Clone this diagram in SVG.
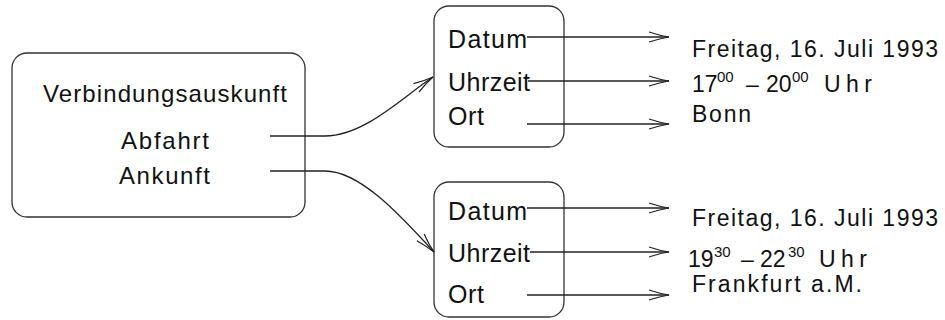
<svg xmlns="http://www.w3.org/2000/svg" width="945" height="320" viewBox="0 0 945 320">
<defs>
<style>
.box{fill:none;stroke:#333;stroke-width:1.3}
.t{font-family:"Liberation Sans",Arial,sans-serif;fill:#111}
.big{font-size:24px}
.mid{font-size:25px}
.val{font-size:23px}
.sup{font-size:15px}
.c{fill:none;stroke:#222;stroke-width:1.3}
</style>
<marker id="ah" markerUnits="userSpaceOnUse" markerWidth="24" markerHeight="14" viewBox="-22 -7 24 14" refX="0" refY="0" orient="auto">
<path d="M-20,-5 Q-9,-1.3 0,0 Q-9,1.3 -20,5" fill="none" stroke="#222" stroke-width="1.2"/>
</marker>
</defs>
<rect width="945" height="320" fill="#fff"/>
<g id="verbindung">
<rect class="box" x="12" y="53" width="293" height="164" rx="15"/>
<text class="t big" x="43" y="102" textLength="244" lengthAdjust="spacing">Verbindungsauskunft</text>
<text class="t big" x="121" y="149" textLength="88" lengthAdjust="spacing">Abfahrt</text>
<text class="t big" x="119" y="184" textLength="91" lengthAdjust="spacing">Ankunft</text>
</g>
<g id="abfahrt-box">
<rect class="box" x="434" y="6" width="130" height="141" rx="15"/>
<text class="t mid" x="448" y="48" textLength="79" lengthAdjust="spacing">Datum</text>
<text class="t mid" x="448" y="91" textLength="82" lengthAdjust="spacing">Uhrzeit</text>
<text class="t mid" x="448" y="125" textLength="36" lengthAdjust="spacing">Ort</text>
</g>
<g id="ankunft-box">
<rect class="box" x="434" y="182" width="130" height="135" rx="15"/>
<text class="t mid" x="448" y="220" textLength="79" lengthAdjust="spacing">Datum</text>
<text class="t mid" x="448" y="262" textLength="82" lengthAdjust="spacing">Uhrzeit</text>
<text class="t mid" x="448" y="303" textLength="36" lengthAdjust="spacing">Ort</text>
</g>
<g id="abfahrt-values">
<text class="t val" x="692" y="57" textLength="246" lengthAdjust="spacing">Freitag, 16. Juli 1993</text>
<text class="t val" y="92"><tspan x="692">17</tspan><tspan class="sup" x="717" y="82">00</tspan><tspan x="746" y="92">–</tspan><tspan x="766">20</tspan><tspan class="sup" x="792" y="82">00</tspan><tspan x="824" y="92" textLength="48" lengthAdjust="spacing">Uhr</tspan></text>
<text class="t val" x="692" y="122" textLength="59" lengthAdjust="spacing">Bonn</text>
</g>
<g id="ankunft-values">
<text class="t val" x="692" y="226" textLength="246" lengthAdjust="spacing">Freitag, 16. Juli 1993</text>
<text class="t val" y="267"><tspan x="688">19</tspan><tspan class="sup" x="714" y="257">30</tspan><tspan x="741" y="267">–</tspan><tspan x="760">22</tspan><tspan class="sup" x="788" y="257">30</tspan><tspan x="819" y="267" textLength="48" lengthAdjust="spacing">Uhr</tspan></text>
<text class="t val" x="692" y="292" textLength="170" lengthAdjust="spacing">Frankfurt a.M.</text>
</g>
<g id="connectors">
<path class="c" d="M270,136 L325,136 C365,136 405,95 433,77" marker-end="url(#ah)"/>
<path class="c" d="M270,171 L325,171 C360,171 400,215 434,252" marker-end="url(#ah)"/>
<path class="c" d="M527,37 H669" marker-end="url(#ah)"/>
<path class="c" d="M528,81 H669" marker-end="url(#ah)"/>
<path class="c" d="M527,124 H669" marker-end="url(#ah)"/>
<path class="c" d="M527,208 H669" marker-end="url(#ah)"/>
<path class="c" d="M530,252 H669" marker-end="url(#ah)"/>
<path class="c" d="M527,295 H669" marker-end="url(#ah)"/>
</g>
</svg>
